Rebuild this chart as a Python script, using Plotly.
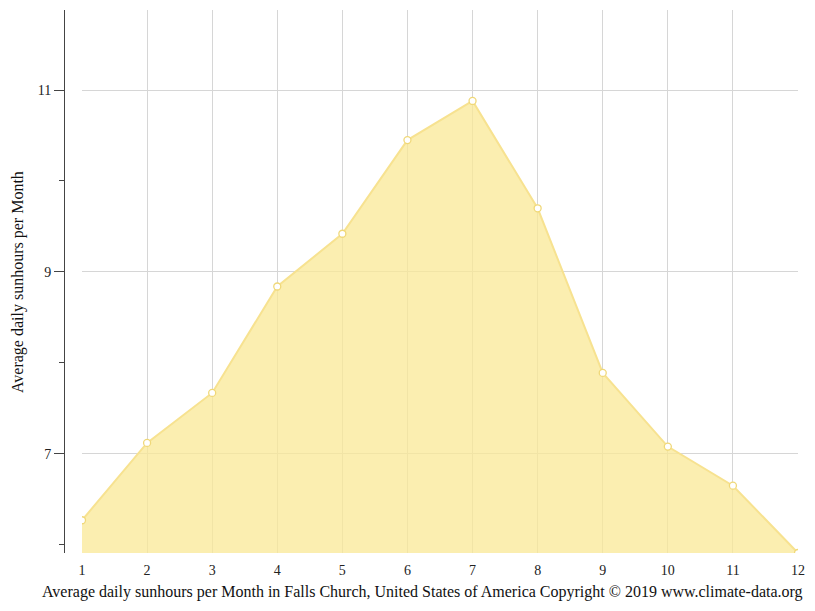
import plotly.graph_objects as go

# months and average daily sun hours (Falls Church)
months = [1, 2, 3, 4, 5, 6, 7, 8, 9, 10, 11, 12]
sunhours = [6.27, 7.12, 7.67, 8.84, 9.42, 10.45, 10.88, 9.70, 7.89, 7.08, 6.65, 5.91]

y_ticks = [7, 9, 11]

FONT = 'Liberation Serif'


def build_fig():
    fig = go.Figure()
    fig.add_trace(go.Scatter(
        x=months,
        y=sunhours,
        mode='lines+markers',
        fill='tozeroy',
        fillcolor='rgba(250,232,150,0.75)',
        line=dict(color='#f7e290', width=2),
        marker=dict(size=7, color='white',
                    line=dict(color='#f0d878', width=1.3)),
        hoverinfo='x+y',
        showlegend=False,
    ))

    # page body has an 8px margin, so the figure is 8px smaller than the window
    fig.update_layout(
        width=807, height=603,
        margin=dict(l=74, r=17, t=2, b=58),
        plot_bgcolor='white',
        paper_bgcolor='white',
        font=dict(family=FONT, size=14, color='#222'),
        xaxis=dict(
            range=[1, 12],
            tickvals=months,
            showgrid=True, gridcolor='#d6d6d6', gridwidth=1,
            showline=False, zeroline=False,
            ticks='', ticklabelstandoff=7,
        ),
        yaxis=dict(
            range=[5.91, 11.88],
            tickvals=y_ticks,
            anchor='free', position=0, shift=-18,
            showgrid=True, gridcolor='#d6d6d6', gridwidth=1,
            showline=True, linecolor='#444', linewidth=1,
            zeroline=False,
            ticks='outside', ticklen=10, tickcolor='#444',
            minor=dict(dtick=1, tick0=0, ticks='outside', ticklen=5,
                       tickcolor='#444', showgrid=False),
        ),
        annotations=[
            dict(text='Average daily sunhours per Month in Falls Church, United States of America Copyright © 2019 www.climate-data.org',
                 xref='paper', yref='paper', x=0.4756, y=-0.0718,
                 xanchor='center', yanchor='middle', showarrow=False,
                 font=dict(family=FONT, size=16, color='#111')),
            dict(text='Average daily sunhours per Month',
                 xref='paper', yref='paper', x=-0.0894, y=0.499,
                 xanchor='center', yanchor='middle', showarrow=False,
                 textangle=-90,
                 font=dict(family=FONT, size=16, color='#111')),
        ],
    )
    return fig


def main():
    fig = build_fig()
    fig.write_html('out.html')


if __name__ == '__main__':
    main()
